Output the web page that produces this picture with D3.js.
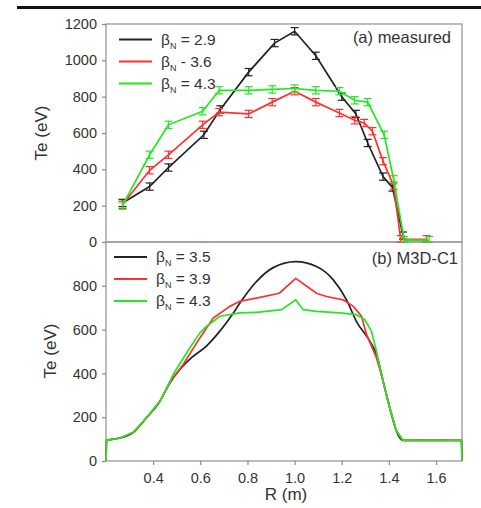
<!DOCTYPE html>
<html>
<head>
<meta charset="utf-8">
<script src="https://cdn.jsdelivr.net/npm/d3@7"></script>
<style>
  body { margin: 0; background: #fff; }
  text { font-family: "Liberation Sans", Arial, sans-serif; fill: #333; }
</style>
</head>
<body>
<script>
// top panel: measured profiles (R in m, Te in eV)
var measR29 = [0.27, 0.385, 0.465, 0.615, 0.685, 0.805, 0.915, 1.0, 1.09, 1.2, 1.26, 1.31, 1.375, 1.415, 1.46];
var measT29 = [215, 305, 410, 590, 730, 935, 1095, 1160, 1025, 800, 705, 545, 360, 300, 35];
var measR36 = [0.27, 0.385, 0.465, 0.61, 0.68, 0.805, 0.905, 1.0, 1.09, 1.19, 1.255, 1.295, 1.33, 1.375, 1.42, 1.45, 1.56];
var measT36 = [205, 395, 480, 645, 715, 705, 770, 830, 770, 710, 670, 655, 610, 445, 310, 15, 15];
var measR43 = [0.27, 0.385, 0.465, 0.61, 0.68, 0.805, 0.905, 1.0, 1.09, 1.19, 1.255, 1.31, 1.38, 1.42, 1.465, 1.57];
var measT43 = [200, 480, 645, 720, 835, 835, 840, 845, 835, 830, 780, 770, 590, 345, 10, 10];
var measErr = 20;

// bottom panel: M3D-C1 profiles
var simR35 = [0.2, 0.202, 0.26, 0.315, 0.37, 0.43, 0.47, 0.514, 0.563, 0.626, 0.683, 0.74, 0.768, 0.838, 0.909, 1.005, 1.093, 1.164, 1.22, 1.262, 1.319, 1.347, 1.375, 1.403, 1.431, 1.46, 1.708, 1.71];
var simT35 = [0, 94, 105, 130, 195, 275, 355, 419, 472, 525, 593, 676, 721, 819, 883, 910, 888, 827, 736, 638, 547, 487, 366, 245, 139, 94, 94, 0];
var simR39 = [0.2, 0.202, 0.26, 0.315, 0.37, 0.43, 0.47, 0.528, 0.598, 0.655, 0.725, 0.768, 0.838, 0.935, 1.005, 1.093, 1.135, 1.206, 1.249, 1.284, 1.305, 1.347, 1.375, 1.403, 1.431, 1.46, 1.708, 1.71];
var simT39 = [0, 94, 105, 130, 195, 275, 360, 442, 562, 653, 706, 729, 744, 766, 834, 766, 751, 736, 706, 661, 578, 472, 366, 245, 139, 94, 94, 0];
var simR43 = [0.2, 0.202, 0.26, 0.315, 0.37, 0.43, 0.47, 0.485, 0.556, 0.598, 0.626, 0.683, 0.768, 0.838, 0.945, 1.005, 1.036, 1.093, 1.192, 1.262, 1.297, 1.326, 1.347, 1.375, 1.403, 1.431, 1.46, 1.708, 1.71];
var simT43 = [0, 94, 105, 130, 195, 275, 360, 396, 517, 585, 615, 661, 676, 679, 691, 736, 691, 683, 676, 668, 646, 593, 502, 366, 245, 139, 94, 94, 0];

var xTicks = [0.4, 0.6, 0.8, 1.0, 1.2, 1.4, 1.6];
var yTicksTop = [0, 200, 400, 600, 800, 1000, 1200];
var yTicksBot = [0, 200, 400, 600, 800];

var colors = ["#222222", "#ff3030", "#22e822"];
var topLabels = [" = 2.9", " - 3.6", " = 4.3"];
var botLabels = [" = 3.5", " = 3.9", " = 4.3"];

window.onload = function(){
    var svg = d3.select('body').append('svg')
        .attr('width', 481)
        .attr('height', 508);

    // heavy rule across the top of the page
    svg.append('rect')
        .attr('x', 17).attr('y', 6)
        .attr('width', 464).attr('height', 3)
        .style('fill', '#111');

    var x = d3.scaleLinear().domain([0.2, 1.71]).range([106, 462]);
    var yTop = d3.scaleLinear().domain([0, 1200]).range([242, 24]);
    var yBot = d3.scaleLinear().domain([0, 1000]).range([461, 242]);

    // frames
    svg.append('rect')
        .attr('x', 106).attr('y', 24).attr('width', 356).attr('height', 218)
        .style('fill', 'none').style('stroke', '#999').style('stroke-width', 1.3);
    svg.append('rect')
        .attr('x', 106).attr('y', 242).attr('width', 356).attr('height', 219)
        .style('fill', 'none').style('stroke', '#999').style('stroke-width', 1.3);

    // axes
    var yAxisTop = svg.append('g')
        .attr('transform', 'translate(106,0)')
        .call(d3.axisLeft(yTop).tickValues(yTicksTop).tickFormat(d3.format('d')).tickSize(4).tickPadding(5));
    var yAxisBot = svg.append('g')
        .attr('transform', 'translate(106,0)')
        .call(d3.axisLeft(yBot).tickValues(yTicksBot).tickFormat(d3.format('d')).tickSize(4).tickPadding(5));
    var xAxis = svg.append('g')
        .attr('transform', 'translate(0,461)')
        .call(d3.axisBottom(x).tickValues(xTicks).tickFormat(d3.format('.1f')).tickSize(4).tickPadding(8));

    [yAxisTop, yAxisBot, xAxis].forEach(function(g){
        g.select('.domain').remove();
        g.selectAll('line').style('stroke', '#888').style('stroke-width', 1.2);
        g.selectAll('text').style('font-size', '14.5px').style('fill', '#333')
            .style('font-family', '"Liberation Sans", Arial, sans-serif');
    });

    // axis titles
    svg.append('text')
        .attr('transform', 'translate(47,133) rotate(-90)')
        .attr('text-anchor', 'middle')
        .style('font-size', '17px')
        .text('Te (eV)');
    svg.append('text')
        .attr('transform', 'translate(56,351) rotate(-90)')
        .attr('text-anchor', 'middle')
        .style('font-size', '17px')
        .text('Te (eV)');
    svg.append('text')
        .attr('x', 286).attr('y', 500)
        .attr('text-anchor', 'middle')
        .style('font-size', '17px')
        .text('R (m)');

    // panel labels
    svg.append('text')
        .attr('x', 451).attr('y', 43)
        .attr('text-anchor', 'end')
        .style('font-size', '16.5px')
        .text('(a) measured');
    svg.append('text')
        .attr('x', 458).attr('y', 264)
        .attr('text-anchor', 'end')
        .style('font-size', '16.5px')
        .text('(b) M3D-C1');

    // top panel data
    var measured = [
        {r: measR29, t: measT29, c: colors[0]},
        {r: measR36, t: measT36, c: colors[1]},
        {r: measR43, t: measT43, c: colors[2]}
    ];
    var lineTop = d3.line()
        .x(function(d){ return x(d[0]); })
        .y(function(d){ return yTop(d[1]); });

    measured.forEach(function(s){
        var pts = s.r.map(function(r, i){ return [r, s.t[i]]; });
        var g = svg.append('g');
        g.append('path')
            .datum(pts)
            .attr('d', lineTop)
            .style('fill', 'none')
            .style('stroke', s.c)
            .style('stroke-width', 1.7);
        // error bars
        var eb = g.selectAll('g.eb').data(pts).enter().append('g');
        eb.append('line')
            .attr('x1', function(d){ return x(d[0]); })
            .attr('x2', function(d){ return x(d[0]); })
            .attr('y1', function(d){ return yTop(d[1] + measErr); })
            .attr('y2', function(d){ return yTop(Math.max(0, d[1] - measErr)); })
            .style('stroke', s.c).style('stroke-width', 1.2);
        [1, -1].forEach(function(sign){
            eb.append('line')
                .attr('x1', function(d){ return x(d[0]) - 4; })
                .attr('x2', function(d){ return x(d[0]) + 4; })
                .attr('y1', function(d){ return yTop(Math.max(0, d[1] + sign * measErr)); })
                .attr('y2', function(d){ return yTop(Math.max(0, d[1] + sign * measErr)); })
                .style('stroke', s.c).style('stroke-width', 1.2);
        });
    });

    // bottom panel data
    var simulated = [
        {r: simR35, t: simT35, c: colors[0], curve: d3.curveMonotoneX},
        {r: simR39, t: simT39, c: colors[1], curve: d3.curveLinear},
        {r: simR43, t: simT43, c: colors[2], curve: d3.curveLinear}
    ];
    simulated.forEach(function(s){
        var pts = s.r.map(function(r, i){ return [r, s.t[i]]; });
        var line = d3.line()
            .curve(s.curve)
            .x(function(d){ return x(d[0]); })
            .y(function(d){ return yBot(d[1]); });
        svg.append('path')
            .datum(pts)
            .attr('d', line)
            .style('fill', 'none')
            .style('stroke', s.c)
            .style('stroke-width', 1.7)
            .style('stroke-linejoin', 'round');
    });

    // legends
    function legend(x0, y0, labels, lineLen, gap){
        labels.forEach(function(lab, i){
            var yy = y0 + i * 22;
            svg.append('line')
                .attr('x1', x0).attr('x2', x0 + lineLen)
                .attr('y1', yy).attr('y2', yy)
                .style('stroke', colors[i]).style('stroke-width', 2.2);
            var t = svg.append('text')
                .attr('x', x0 + lineLen + gap).attr('y', yy + 5)
                .style('font-size', '15.5px');
            t.append('tspan').text('\u03B2');
            t.append('tspan').attr('dy', 4).style('font-size', '9px').text('N');
            t.append('tspan').attr('dy', -4).text(lab);
        });
    }
    legend(119, 39.5, topLabels, 33, 9);
    legend(114, 257, botLabels, 33, 9);
};
</script>
</body>
</html>
